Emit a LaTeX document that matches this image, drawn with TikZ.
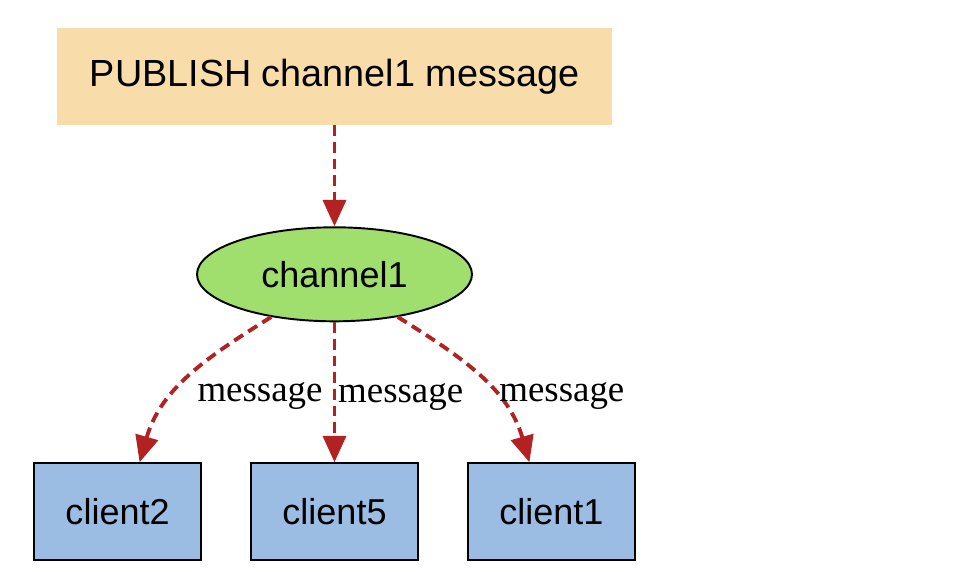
\documentclass[tikz,border=0pt]{standalone}
\usepackage{fontspec}
\setmainfont{Liberation Serif}
\setsansfont{Liberation Sans}
\usepackage{xcolor}
\usepackage{tikz}
\usetikzlibrary{shapes.geometric, arrows.meta, positioning}

\definecolor{pubfill}{HTML}{F8DCAA}
\definecolor{chanfill}{HTML}{A0DE6E}
\definecolor{clientfill}{HTML}{9BBDE4}
\definecolor{msgred}{HTML}{B22222}

\begin{document}
\begin{tikzpicture}[
    node distance = 2.02cm and 0.96cm,
    pubbox/.style    = {rectangle, fill=pubfill, minimum width=11.1cm,
                        minimum height=1.94cm, align=center,
                        font=\sffamily\fontsize{21.5}{24}\selectfont},
    chanbox/.style   = {ellipse, draw, line width=1.1pt, fill=chanfill,
                        minimum width=5.5cm, minimum height=1.88cm,
                        inner sep=0pt, font=\sffamily\fontsize{20.5}{24}\selectfont},
    clientbox/.style = {rectangle, draw, line width=1.1pt, fill=clientfill,
                        minimum width=3.34cm, minimum height=1.94cm,
                        font=\sffamily\fontsize{20.5}{24}\selectfont},
    msgarr/.style    = {-{Triangle[length=15pt, width=13pt]}, line width=2.2pt,
                        msgred, dash pattern=on 6pt off 3.5pt},
    msglbl/.style    = {text=black, font=\fontsize{21}{24}\selectfont,
                        inner sep=1pt},
]
\useasboundingbox (0,0) rectangle (19.24,-11.44);

%% ── Publisher and channel ───────────────────────────────────────────────────
\node[pubbox]  (pub) at (6.69,-1.53) {PUBLISH channel1 message};
\node[chanbox, below=of pub] (chan) {channel1};

%% ── Subscribed clients ──────────────────────────────────────────────────────
\node[clientbox, below=2.8cm of chan] (client5) {client5};
\node[clientbox, left=of client5]    (client2) {client2};
\node[clientbox, right=of client5]   (client1) {client1};

%% ── Message arrows ──────────────────────────────────────────────────────────
\draw[msgarr] (pub) -- (chan);
\draw[msgarr] (chan.214) to[out=212, in=74]
    node[msglbl, pos=0.6, right=0.35cm, yshift=-0.1cm] {message} (client2.66);
\draw[msgarr] (chan.south) -- (client5.north)
    node[msglbl, midway, anchor=west, yshift=-0.1cm] {message};
\draw[msgarr] (chan.-34) to[out=-32, in=106]
    node[msglbl, pos=0.6, right=0.06cm, yshift=-0.1cm] {message} (client1.114);

\end{tikzpicture}
\end{document}
